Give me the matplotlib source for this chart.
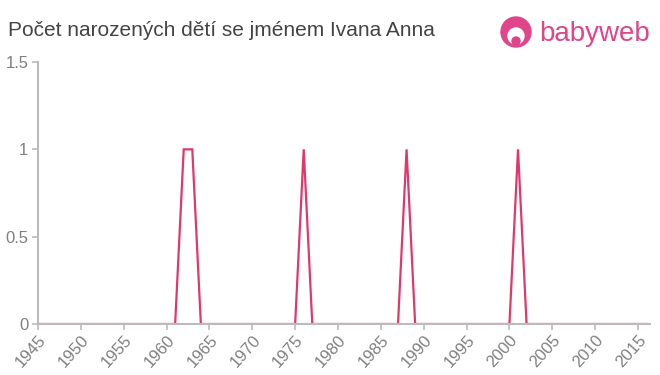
import matplotlib
matplotlib.use("Agg")
import matplotlib.pyplot as plt
from matplotlib.patches import Circle

plt.rcParams["font.family"] = ["Liberation Sans", "DejaVu Sans"]

# data
years = list(range(1945, 2017))
peak_years = [1962, 1963, 1976, 1988, 2001]
counts = [1 if y in peak_years else 0 for y in years]

x_ticks = list(range(1945, 2016, 5))
y_ticks = [0, 0.5, 1, 1.5]
y_labels = ["0", "0.5", "1", "1.5"]

title = "Počet narozených dětí se jménem Ivana Anna"
line_color = "#e0386b"
axis_color = "#bbbbbb"
text_color = "#808080"

fig = plt.figure(figsize=(6.6, 3.75), dpi=100)
ax = fig.add_axes([38 / 660, 51 / 375, 612 / 660, 262 / 375])

ax.plot(years, counts, color=line_color, lw=1.6, solid_joinstyle="miter")

ax.set_xlim(1945, 2016.4)
ax.set_ylim(0, 1.5)
ax.set_xticks(x_ticks)
ax.set_xticklabels([str(t) for t in x_ticks], rotation=48, ha="right",
                   rotation_mode="anchor", fontsize=12, color=text_color)
ax.set_yticks(y_ticks)
ax.set_yticklabels(y_labels, fontsize=12, color=text_color)

for side in ["top", "right"]:
    ax.spines[side].set_visible(False)
for side in ["left", "bottom"]:
    ax.spines[side].set_color(axis_color)
    ax.spines[side].set_linewidth(1.5)
ax.tick_params(axis="both", colors=axis_color, length=4, width=1.2,
               labelcolor=text_color, pad=3)
ax.tick_params(axis="x", pad=2)

fig.text(8 / 660, 1 - 30 / 375, title, fontsize=15, color="#444444",
         va="center", ha="left")

# babyweb logo: round icon drawn in pixel space so it stays circular
logo_color = "#e0458a"
icon = Circle((516, 375 - 32), 15, transform=None, color=logo_color, zorder=5)
face = Circle((516, 375 - 36), 8, transform=None, color="white", zorder=6)
dot = Circle((516, 375 - 41), 4, transform=None, color=logo_color, zorder=7)
fig.patches.extend([icon, face, dot])
fig.text(539 / 660, 1 - 34 / 375, "babyweb", fontsize=20, color=logo_color,
         va="center", ha="left")

fig.savefig("out.png", dpi=100)
